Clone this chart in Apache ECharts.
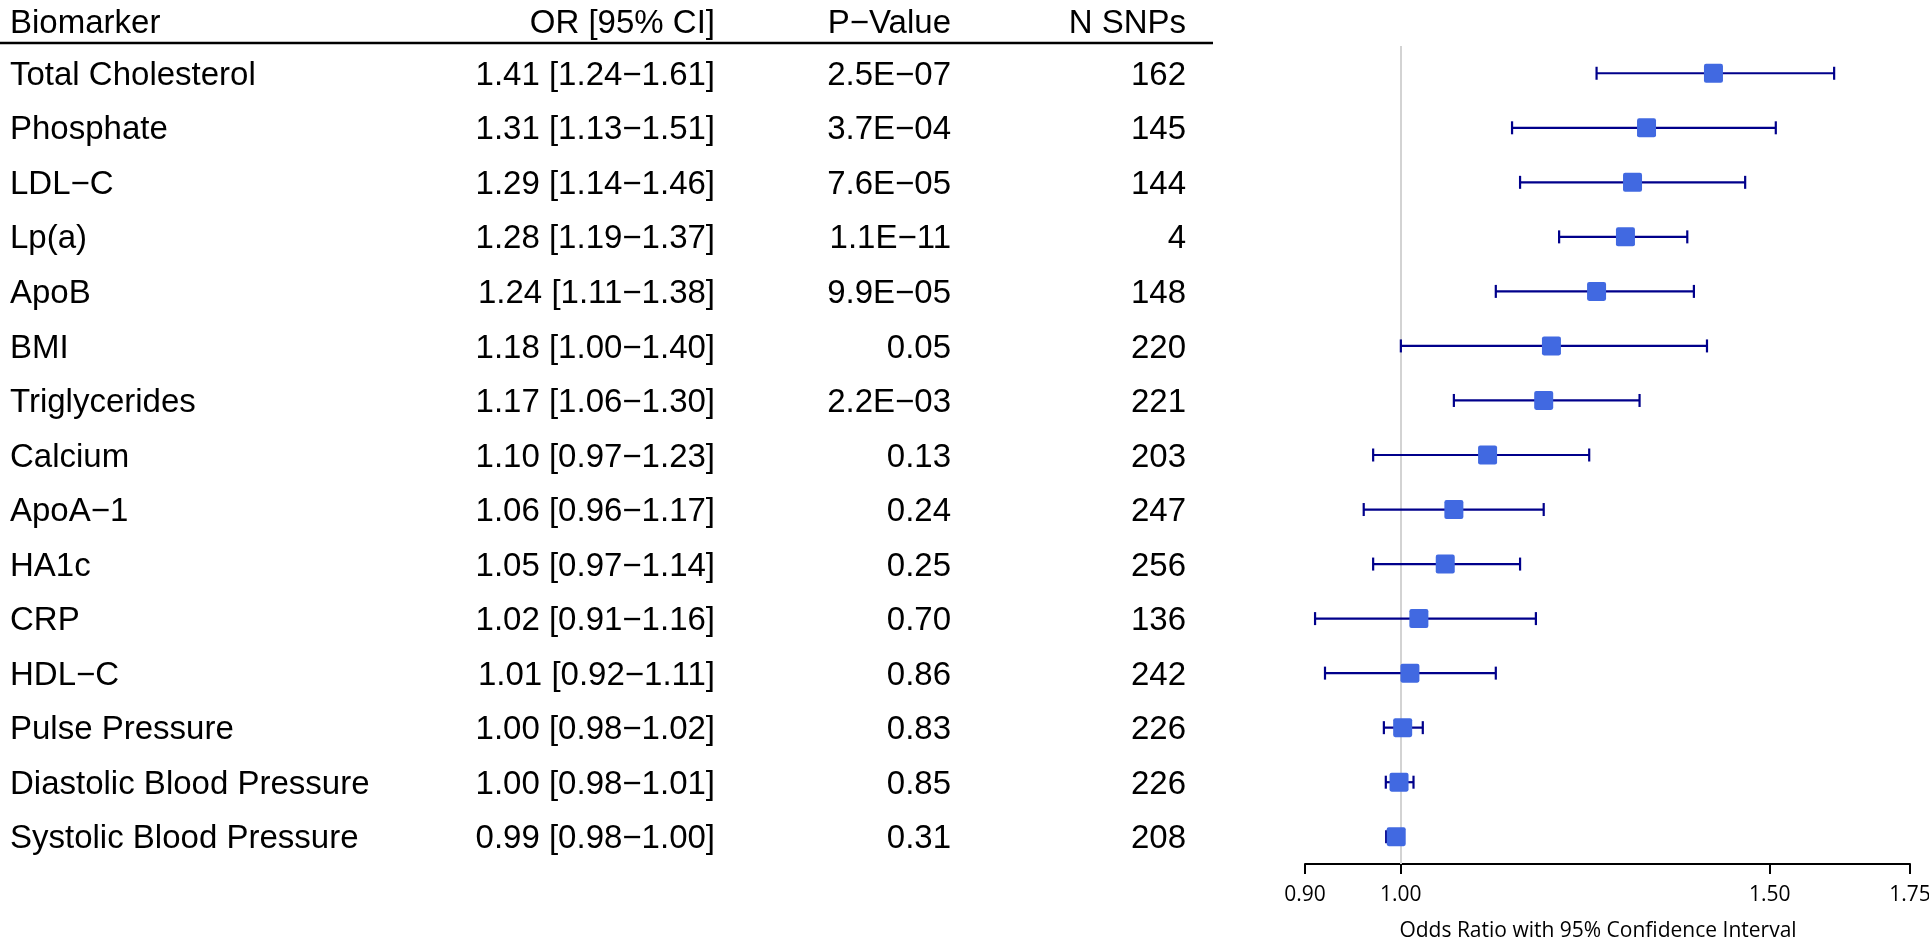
<!DOCTYPE html>
<html><head><meta charset="utf-8">
<script src="https://cdn.jsdelivr.net/npm/echarts@6/dist/echarts.min.js"></script>
<style>html,body{margin:0;padding:0;background:#fff}#c{width:1929px;height:943px}</style>
</head><body><div id="c"></div>
<script>
const biomarkers = ['Total Cholesterol','Phosphate','LDL\u2212C','Lp(a)','ApoB','BMI','Triglycerides','Calcium','ApoA\u22121','HA1c','CRP','HDL\u2212C','Pulse Pressure','Diastolic Blood Pressure','Systolic Blood Pressure'];
const oddsRatio = [1.41,1.31,1.29,1.28,1.24,1.18,1.17,1.10,1.06,1.05,1.02,1.01,1.002,0.998,0.9949];
const ciLower = [1.24,1.13,1.14,1.19,1.11,1.00,1.06,0.97,0.96,0.97,0.91,0.92,0.9815,0.9836,0.984];
const ciUpper = [1.61,1.51,1.46,1.37,1.38,1.40,1.30,1.23,1.17,1.14,1.16,1.11,1.0244,1.014,0.998];
const pValues = ['2.5E\u221207','3.7E\u221204','7.6E\u221205','1.1E\u221211','9.9E\u221205','0.05','2.2E\u221203','0.13','0.24','0.25','0.70','0.86','0.83','0.85','0.31'];
const nSnps = [162,145,144,4,148,220,221,203,247,256,136,242,226,226,208];
const xTicks = [0.90,1.00,1.50,1.75];
const headers = ['Biomarker','OR [95% CI]','P\u2212Value','N SNPs'];
const xTitle = 'Odds Ratio with 95% Confidence Interval';

const FONT = '"Liberation Sans", Arial, Helvetica, sans-serif';
const AXFONT = '"Open Sans", sans-serif';
const FS = 33;
const fmt = v => v.toFixed(2);
const orText = oddsRatio.map((v,i)=>`${fmt(v)} [${fmt(ciLower[i])}\u2212${fmt(ciUpper[i])}]`);

const chart = echarts.init(document.getElementById('c'), null, {renderer:'canvas'});
const labelAxis = (data, margin, align) => ({
  type:'category', data, inverse:true, gridIndex:0, position:'left',
  axisLine:{show:false}, axisTick:{show:false}, splitLine:{show:false},
  axisLabel:{interval:0, margin, align, verticalAlign:'middle', color:'#000', fontFamily:FONT, fontSize:FS,
    formatter: v => '{t|' + v + '}',
    rich:{t:{padding:[5,0,0,0], color:'#000', fontFamily:FONT, fontSize:FS}}}
});
const option = {
  backgroundColor:'#fff',
  animation:false,
  grid:{left:1305, right:19, top:46, bottom:79, containLabel:false, outerBoundsMode:'none'},
  xAxis:{
    type:'log', logBase:10, min:0.9, max:1.75,
    axisLine:{show:true, lineStyle:{color:'#000', width:2}},
    axisTick:{show:true, customValues:xTicks, length:10, lineStyle:{color:'#000', width:2}},
    minorTick:{show:false},
    axisLabel:{customValues:xTicks, formatter:v=>Number(v).toFixed(2), margin:21, fontFamily:AXFONT, fontSize:21, color:'#000'},
    splitLine:{show:false}
  },
  yAxis:[
    labelAxis(biomarkers, 1295, 'left'),
    labelAxis(orText, 590, 'right'),
    labelAxis(pValues, 354, 'right'),
    labelAxis(nSnps.map(String), 119, 'right')
  ],
  series:[
    {
      type:'custom', name:'CI', xAxisIndex:0, yAxisIndex:0, z:2, silent:true,
      data: biomarkers.map((b,i)=>[ciLower[i], ciUpper[i], i]),
      encode:{x:[0,1], y:2},
      renderItem:(params, api)=>{
        const yi = api.value(2);
        const p1 = api.coord([api.value(0), yi]);
        const p2 = api.coord([api.value(1), yi]);
        const h = 6.5;
        const st = {stroke:'#00008B', lineWidth:2.2};
        return {type:'group', children:[
          {type:'line', shape:{x1:p1[0], y1:p1[1], x2:p2[0], y2:p2[1]}, style:st},
          {type:'line', shape:{x1:p1[0], y1:p1[1]-h, x2:p1[0], y2:p1[1]+h}, style:st},
          {type:'line', shape:{x1:p2[0], y1:p2[1]-h, x2:p2[0], y2:p2[1]+h}, style:st}
        ]};
      }
    },
    {
      type:'scatter', name:'OR', xAxisIndex:0, yAxisIndex:0, z:3, silent:true,
      symbol:'path://M2 0H16Q18 0 18 2V16Q18 18 16 18H2Q0 18 0 16V2Q0 0 2 0Z',
      symbolSize:19,
      itemStyle:{color:'#4169E1', opacity:1},
      data: oddsRatio.map((v,i)=>[v, i]),
      markLine:{silent:true, symbol:'none', z:1, label:{show:false},
        lineStyle:{color:'#d3d3d3', width:2, type:'solid'},
        emphasis:{disabled:true},
        data:[{xAxis:1}]}
    }
  ],
  graphic:[
    {type:'text', x:10, y:23.5, style:{text:headers[0], align:'left', verticalAlign:'middle', font:FS+'px '+FONT, fill:'#000'}},
    {type:'text', x:715, y:23.5, style:{text:headers[1], align:'right', verticalAlign:'middle', font:FS+'px '+FONT, fill:'#000'}},
    {type:'text', x:951, y:23.5, style:{text:headers[2], align:'right', verticalAlign:'middle', font:FS+'px '+FONT, fill:'#000'}},
    {type:'text', x:1186, y:23.5, style:{text:headers[3], align:'right', verticalAlign:'middle', font:FS+'px '+FONT, fill:'#000'}},
    {type:'line', shape:{x1:0, y1:43, x2:1213, y2:43}, style:{stroke:'#000', lineWidth:2.5}},
    {type:'text', x:1598, y:931, style:{text:xTitle, align:'center', verticalAlign:'middle', font:'21px '+AXFONT, fill:'#000'}}
  ]
};
chart.setOption(option);
</script>
</body></html>
